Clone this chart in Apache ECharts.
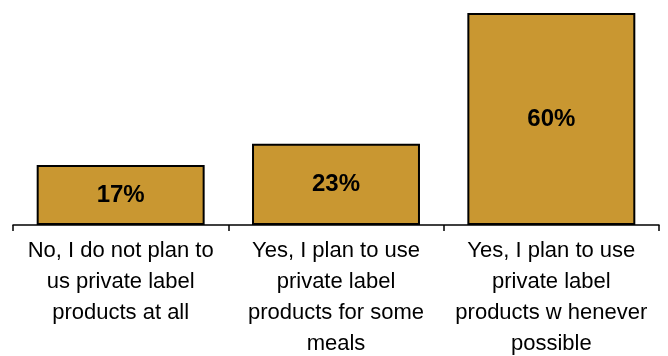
<!DOCTYPE html>
<html>
<head>
<meta charset="utf-8">
<script src="https://cdn.jsdelivr.net/npm/echarts@6/dist/echarts.min.js"></script>
<style>
  html, body { margin: 0; padding: 0; background: #fff; }
  #chart { width: 668px; height: 356px; }
</style>
</head>
<body>
<div id="chart"></div>
<script>
// Survey answers (line breaks as set in the category labels)
const categories = [
  'No, I do not plan to\nus private label\nproducts at all',
  'Yes, I plan to use\nprivate label\nproducts for some\nmeals',
  'Yes, I plan to use\nprivate label\nproducts w henever\npossible'
];
// Share of respondents, percent
const shares = [17, 23, 60];

const chart = echarts.init(document.getElementById('chart'));
chart.setOption({
  animation: false,
  grid: { left: 13, right: 9, top: 13, bottom: 131, containLabel: false, outerBoundsMode: 'none' },
  xAxis: {
    type: 'category',
    data: categories,
    axisLine: { show: true, lineStyle: { color: '#000', width: 1.5 } },
    axisTick: { show: true, alignWithLabel: false, length: 6, lineStyle: { color: '#000', width: 1.5 } },
    axisLabel: {
      color: '#000',
      fontFamily: 'Liberation Sans, Arial, sans-serif',
      fontSize: 22,
      lineHeight: 31,
      margin: 10,
      interval: 0
    }
  },
  yAxis: {
    type: 'value',
    min: 0,
    max: 60,
    show: false,
    splitLine: { show: false }
  },
  series: [{
    type: 'bar',
    data: shares,
    barCategoryGap: '22%',
    itemStyle: { color: '#C99731', borderColor: '#000', borderWidth: 2 },
    label: {
      show: true,
      position: 'inside',
      formatter: '{c}%',
      color: '#000',
      fontFamily: 'Liberation Sans, Arial, sans-serif',
      fontWeight: 'bold',
      fontSize: 24
    }
  }]
});
</script>
</body>
</html>
